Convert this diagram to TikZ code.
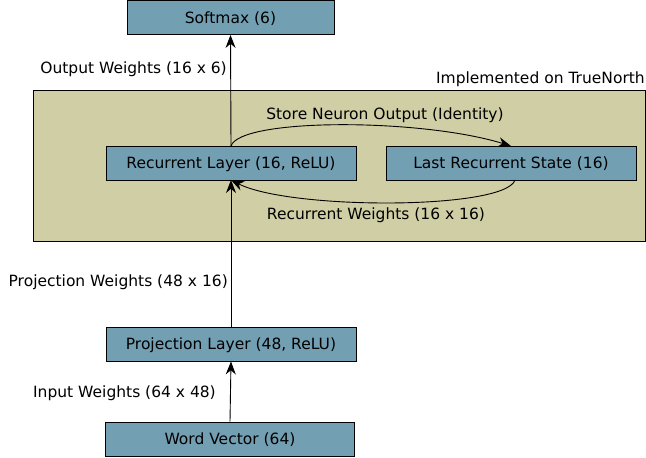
\documentclass[tikz,border=0pt]{standalone}
\usepackage{fontspec}
\setmainfont{DejaVu Sans}
\usetikzlibrary{arrows.meta}
\definecolor{boxblue}{RGB}{115,159,179}
\definecolor{olive}{RGB}{207,206,164}
\begin{document}
\begin{tikzpicture}[x=1pt,y=-1pt,
  layer/.style={draw=black,fill=boxblue,line width=0.9pt,minimum height=34pt,inner sep=0pt,text depth=0pt,font=\fontsize{15.5}{17}\selectfont},
  lbl/.style={font=\fontsize{15.5}{17}\selectfont,inner sep=0pt},
  conn/.style={line width=0.9pt,-{Stealth[length=13pt,width=10pt]}}]
\useasboundingbox (0,0) rectangle (646,458);
\node[draw=black,fill=olive,line width=0.9pt,minimum width=612pt,minimum height=151pt,inner sep=0pt] (tn) at (339,165.5) {};
\node[lbl,anchor=east] (tnl) at (645,79) {Implemented on TrueNorth};
\node[layer,minimum width=207pt] (soft) at (230.5,17.5) {Softmax (6)};
\node[layer,minimum width=250pt] (rec) at (231,163) {Recurrent Layer (16, ReLU)};
\node[layer,minimum width=250pt] (last) at (511,163) {Last Recurrent State (16)};
\node[layer,minimum width=250pt] (proj) at (231,344) {Projection Layer (48, ReLU)};
\node[layer,minimum width=249pt] (word) at (230,439) {Word Vector (64)};
\coordinate (recT) at (231,146);
\coordinate (recB) at (231,180);
\coordinate (lastT) at (511,146);
\coordinate (lastB) at (515,180);
\draw[conn] (recT) -- (soft.south);
\draw[conn] (proj.north) -- (recB);
\draw[conn] (word.north) -- (proj.south);
\draw[conn] (recT) .. controls (240,118) and (420,118) .. (lastT);
\draw[conn] (lastB) .. controls (505,210) and (290,210) .. (recB);
\node[lbl,anchor=east] (ow) at (227,69) {Output Weights (16 x 6)};
\node[lbl,anchor=east] (pw) at (228,282) {Projection Weights (48 x 16)};
\node[lbl,anchor=east] (iw) at (216,393) {Input Weights (64 x 48)};
\node[lbl] (sn) at (385,115) {Store Neuron Output (Identity)};
\node[lbl] (rw) at (376,215) {Recurrent Weights (16 x 16)};
\end{tikzpicture}
\end{document}
